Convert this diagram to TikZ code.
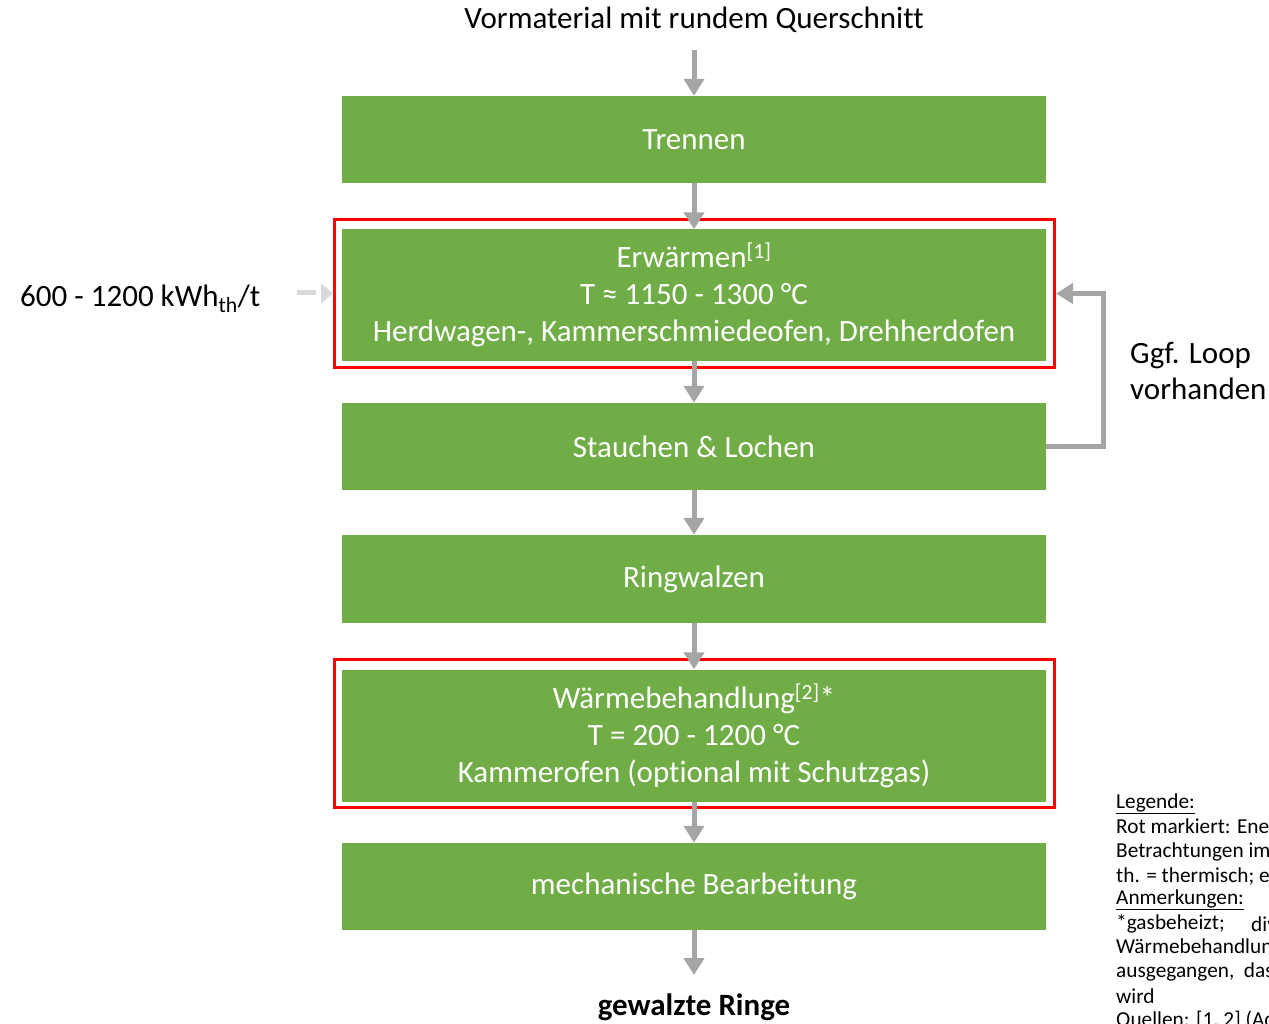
\documentclass[tikz,border=0pt]{standalone}
\usepackage{fontspec}
\setmainfont{Carlito}[Ligatures=NoCommon]
\usetikzlibrary{arrows.meta}
\definecolor{boxgreen}{HTML}{70AD47}
\definecolor{frred}{HTML}{FF0000}
\definecolor{arrgray}{HTML}{A5A5A5}
\definecolor{lightgray}{HTML}{D9D9D9}
\tikzset{
  stepbox/.style={rectangle, fill=boxgreen, text=white, minimum width=704pt, inner sep=0pt, align=center,
    font=\fontsize{31}{37}\selectfont},
  frame/.style={rectangle, draw=frred, line width=3pt, minimum width=720pt, inner sep=0pt},
  arr/.style={draw=arrgray, line width=5pt, -{Triangle[width=20pt,length=17pt]}},
  lbl/.style={font=\fontsize{31}{36}\selectfont, inner sep=0pt},
  leg/.style={font=\fontsize{21.3}{24}\selectfont, inner sep=0pt, anchor=west},
}
\begin{document}
\begin{tikzpicture}[x=1pt,y=-1pt]
\useasboundingbox (0,0) rectangle (1269,1024);
\clip (0,0) rectangle (1269,1024);
% frames
\node[frame, minimum height=148pt] (f1) at (694.5,293.5) {};
\node[frame, minimum height=148pt] (f2) at (694.5,733.5) {};
% boxes
\node[stepbox, minimum height=87pt] (trennen) at (694,139.5) {Trennen};
\node[stepbox, minimum height=131pt] (erw) at (694,295) {Erwärmen\textsuperscript{[1]}\\T ≈ 1150 - 1300 °C\\Herdwagen-, Kammerschmiedeofen, Drehherdofen};
\node[stepbox, minimum height=87pt] (stauch) at (694,446.5) {Stauchen \& Lochen};
\node[stepbox, minimum height=88pt] (ring) at (694,579) {Ringwalzen};
\node[stepbox, minimum height=132pt] (waerme) at (694,735.5) {Wärmebehandlung\textsuperscript{[2]}*\\T = 200 - 1200 °C\\Kammerofen (optional mit Schutzgas)};
\node[stepbox, minimum height=87pt] (mech) at (694,886.5) {mechanische Bearbeitung};
% texts
\node[lbl] (vor) at (694,20) {Vormaterial mit rundem Querschnitt};
\node[lbl, font=\fontsize{31}{36}\selectfont\bfseries] (ringe) at (694,1007) {gewalzte Ringe};
\node[lbl, anchor=west] (energy) at (20,299) {600 - 1200 kWh\textsubscript{th}/t};
\node[lbl, anchor=west, align=left] (loop) at (1130,371) {Ggf. Loop\\vorhanden};
% arrows
\draw[arr] (694,50) -- (trennen.north);
\draw[arr] (trennen.south) -- (erw.north);
\draw[arr] (erw.south) -- (stauch.north);
\draw[arr] (stauch.south) -- (ring.north);
\draw[arr] (ring.south) -- (waerme.north);
\draw[arr] (waerme.south) -- (mech.north);
\draw[arr] (mech.south) -- (694,975);
\draw[arr, line join=miter] (stauch.east) -- ++(57,0) |- (f1.east);
\coordinate (din) at (297,293);
\draw[draw=lightgray, line width=5pt] (din) -- ++(19,0);
\fill[lightgray] (f1.west) -- ++(-12,-10) -- ++(0,20) -- cycle;
% legend
\node[leg] (l1) at (1116,804) {\underline{Legende:}};
\node[leg] (l2) at (1116,828) {Rot markiert: Energetische};
\node[leg] (l3) at (1116,852) {Betrachtungen im Detail};
\node[leg] (l4) at (1116,876) {th. = thermisch; el.};
\node[leg] (l5) at (1116,900) {\underline{Anmerkungen:}};
\node[leg] (l6) at (1116,924) {*gasbeheizt;};
\node[leg] (l6b) at (1251,924) {diverse};
\node[leg] (l7) at (1116,948) {Wärmebehandlungen};
\node[leg] (l8) at (1116,972) {ausgegangen,\ \ dass};
\node[leg] (l9) at (1116,996) {wird};
\node[leg] (l10) at (1116,1020) {Quellen: [1, 2] (Ad};
\end{tikzpicture}
\end{document}
